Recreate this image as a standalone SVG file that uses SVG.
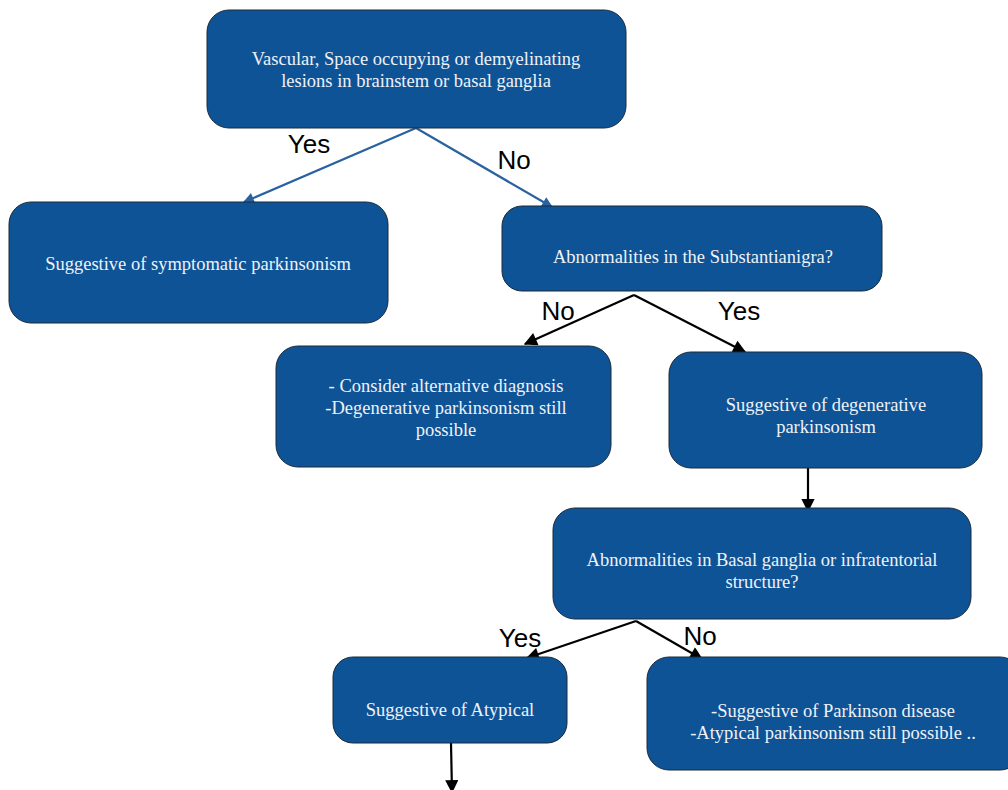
<svg xmlns="http://www.w3.org/2000/svg" width="1008" height="790" viewBox="0 0 1008 790">
<style>
.box{fill:#0e5396;stroke:#1a2a3a;stroke-width:1}
.t{font-family:"Liberation Serif",serif;font-size:18.5px;fill:#eef2f7;text-anchor:middle}
.lbl{font-family:"Liberation Sans",Arial,sans-serif;font-size:26px;fill:#000;text-anchor:middle}
.cb{stroke:#2a62a0;stroke-width:2.2;fill:none}
.ck{stroke:#000;stroke-width:2.2;fill:none}
</style>
<defs>
<marker id="ab" viewBox="0 0 10 10" refX="9" refY="5" markerWidth="13" markerHeight="11" markerUnits="userSpaceOnUse" orient="auto"><path d="M0,0 L10,5 L0,10 z" fill="#2a62a0"/></marker>
<marker id="ak" viewBox="0 0 10 10" refX="9" refY="5" markerWidth="7" markerHeight="6" orient="auto"><path d="M0,0 L10,5 L0,10 z" fill="#000"/></marker>
</defs>
<rect width="1008" height="790" fill="#fff"/>
<g id="connectors">
<line class="cb" x1="416" y1="128" x2="244" y2="202" marker-end="url(#ab)"/>
<line class="cb" x1="416" y1="128" x2="552" y2="207" marker-end="url(#ab)"/>
<line class="ck" x1="634" y1="295" x2="525" y2="344" marker-end="url(#ak)"/>
<line class="ck" x1="634" y1="295" x2="745" y2="352" marker-end="url(#ak)"/>
<line class="ck" x1="808" y1="468" x2="808" y2="511" marker-end="url(#ak)"/>
<line class="ck" x1="636" y1="621" x2="527" y2="658" marker-end="url(#ak)"/>
<line class="ck" x1="636" y1="621" x2="702" y2="659" marker-end="url(#ak)"/>
<line class="ck" x1="451" y1="743" x2="452" y2="792" marker-end="url(#ak)"/>
<text class="lbl" x="309" y="153">Yes</text>
<text class="lbl" x="514" y="169">No</text>
<text class="lbl" x="558" y="320">No</text>
<text class="lbl" x="739" y="320">Yes</text>
<text class="lbl" x="520" y="647">Yes</text>
<text class="lbl" x="700" y="645">No</text>
</g>
<g id="n1"><rect class="box" x="207" y="10" width="419" height="118" rx="22"/>
<text class="t" x="416" y="65">Vascular, Space occupying or demyelinating</text>
<text class="t" x="416" y="87">lesions in brainstem or basal ganglia</text></g>
<g id="n2"><rect class="box" x="9" y="202" width="379" height="121" rx="22"/>
<text class="t" x="198" y="270">Suggestive of symptomatic parkinsonism</text></g>
<g id="n3"><rect class="box" x="502" y="206" width="380" height="85" rx="20"/>
<text class="t" x="693" y="263">Abnormalities in the Substantianigra?</text></g>
<g id="n4"><rect class="box" x="276" y="346" width="335" height="121" rx="22"/>
<text class="t" x="446" y="392">- Consider alternative diagnosis</text>
<text class="t" x="446" y="414">-Degenerative parkinsonism still</text>
<text class="t" x="446" y="436">possible</text></g>
<g id="n5"><rect class="box" x="669" y="352" width="313" height="116" rx="22"/>
<text class="t" x="826" y="411">Suggestive of degenerative</text>
<text class="t" x="826" y="433">parkinsonism</text></g>
<g id="n6"><rect class="box" x="553" y="508" width="418" height="111" rx="22"/>
<text class="t" x="762" y="566">Abnormalities in Basal ganglia or infratentorial</text>
<text class="t" x="762" y="588">structure?</text></g>
<g id="n7"><rect class="box" x="333" y="657" width="234" height="86" rx="20"/>
<text class="t" x="450" y="716">Suggestive of Atypical</text></g>
<g id="n8"><rect class="box" x="647" y="657" width="375" height="113" rx="22"/>
<text class="t" x="833" y="717">-Suggestive of Parkinson disease</text>
<text class="t" x="833" y="739">-Atypical parkinsonism still possible ..</text></g>
</svg>
